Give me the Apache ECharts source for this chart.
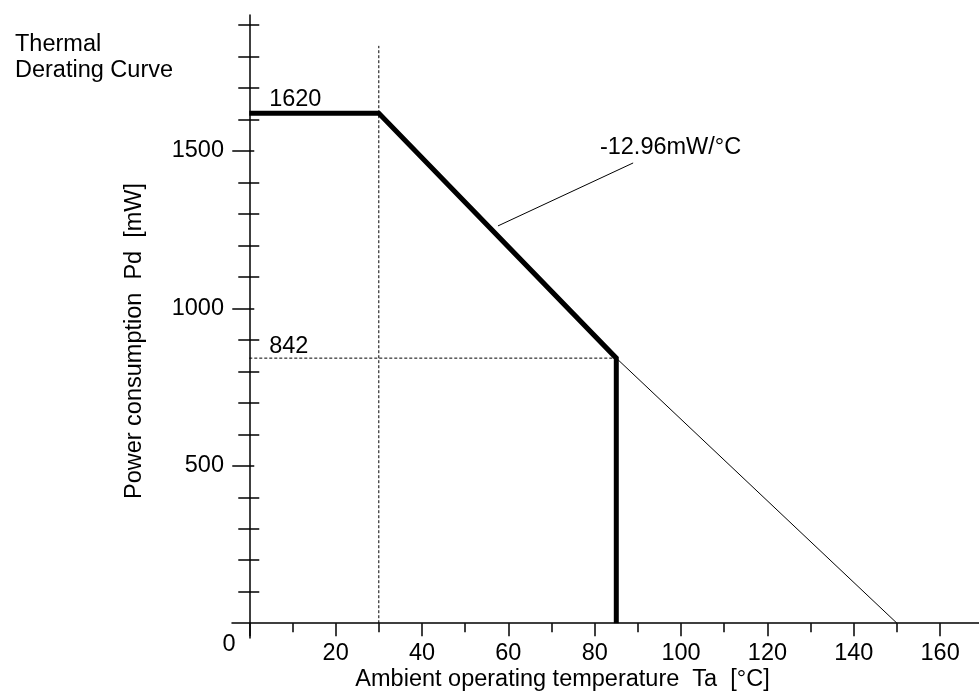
<!DOCTYPE html>
<html><head><meta charset="utf-8">
<script src="https://cdn.jsdelivr.net/npm/echarts@6/dist/echarts.min.js"></script>
<style>html,body{margin:0;padding:0;background:#fff}#c{width:979px;height:691px}</style>
</head><body><div id="c"></div>
<script>
const FONT = "'Liberation Sans', Arial, Helvetica, sans-serif";
const FS = 23.5;
// axis ticks / labels
const xMajorTicks = [0, 20, 40, 60, 80, 100, 120, 140, 160];
const xMinorTicks = [10, 30, 50, 70, 90, 110, 130, 150];
const xTickLabels = [20, 40, 60, 80, 100, 120, 140, 160];
const yMajorTicks = [500, 1000, 1500];
const yMinorTicks = [100, 200, 300, 400, 600, 700, 800, 900, 1100, 1200, 1300, 1400, 1600, 1700, 1800, 1900];
// derating curve (bold)
const curveTemp  = [0, 30, 85, 85];
const curvePower = [1620, 1620, 842, 0];
// thin extension of the slope
const extTemp  = [85, 150];
const extPower = [842, 0];
// dashed guides
const guideVTemp  = [30, 30];
const guideVPower = [0, 1834];
const guideHTemp  = [0, 85];
const guideHPower = [842, 842];
// annotation leader line
const leaderTemp  = [57.6, 88.9];
const leaderPower = [1262, 1462];
// annotation texts and anchors
const noteTexts = ['1620', '842', '-12.96mW/°C'];
const noteTemp  = [4.6, 4.6, 81.2];
const notePower = [1662, 880, 1512];

const pairs = (xs, ys) => xs.map((x, i) => [x, ys[i]]);
const X_MIN = -4, X_MAX = 169, Y_MIN = -47, Y_MAX = 1932;
const TICK = { color: '#000', width: 1.5 };
const HIDDEN_LINE = { show: true, onZero: true, onZeroAxisIndex: 0, lineStyle: { color: 'rgba(0,0,0,0)', width: 1 } };

function yAx(extra) {
  return Object.assign({
    type: 'value', min: Y_MIN, max: Y_MAX, position: 'left',
    splitLine: { show: false }, axisLine: HIDDEN_LINE,
    axisLabel: { show: false }, axisTick: { show: false }
  }, extra);
}
function xAx(extra) {
  return Object.assign({
    type: 'value', min: X_MIN, max: X_MAX, position: 'bottom',
    splitLine: { show: false }, axisLine: HIDDEN_LINE,
    axisLabel: { show: false }, axisTick: { show: false }
  }, extra);
}

const chart = echarts.init(document.getElementById('c'), null, { renderer: 'canvas' });
chart.setOption({
  animation: false,
  backgroundColor: '#fff',
  textStyle: { fontFamily: FONT, color: '#000' },
  title: {
    text: 'Thermal\nDerating Curve', left: 10, top: 27,
    textStyle: { fontSize: FS, fontWeight: 'normal', lineHeight: 26, fontFamily: FONT, color: '#000' }
  },
  grid: { left: 232, right: 0, top: 15, bottom: 53, containLabel: false, outerBoundsMode: 'none' },
  xAxis: [
    xAx({
      axisLine: { show: true, onZero: true, onZeroAxisIndex: 0, lineStyle: { color: '#000', width: 1.5 } },
      axisLabel: { show: true, customValues: xTickLabels, margin: 4, fontSize: FS, fontFamily: FONT, color: '#000' },
      name: 'Ambient operating temperature  Ta  [°C]', nameLocation: 'middle', nameGap: 30, nameMoveOverlap: false,
      nameTextStyle: { fontSize: FS, fontFamily: FONT, color: '#000', padding: [0, 86, 0, 0] }
    }),
    xAx({ axisTick: { show: true, inside: false, length: 13, customValues: xMajorTicks, lineStyle: TICK } }),
    xAx({ axisTick: { show: true, inside: false, length: 9, customValues: xMinorTicks, lineStyle: TICK } })
  ],
  yAxis: [
    yAx({
      axisLine: { show: true, onZero: true, onZeroAxisIndex: 0, lineStyle: { color: '#000', width: 1.5 } },
      axisLabel: { show: true, customValues: yMajorTicks, margin: 8, fontSize: FS, fontFamily: FONT, color: '#000',
        formatter: v => String(v) },
      name: 'Power consumption  Pd  [mW]', nameLocation: 'middle', nameGap: 85, nameRotate: 90, nameMoveOverlap: false,
      nameTextStyle: { fontSize: FS, fontFamily: FONT, color: '#000', padding: [0, 29, 0, 0] }
    }),
    yAx({ axisTick: { show: true, inside: false, length: 17, customValues: yMajorTicks, lineStyle: TICK } }),
    yAx({ axisTick: { show: true, inside: true, length: 5, customValues: yMajorTicks, lineStyle: TICK } }),
    yAx({ axisTick: { show: true, inside: false, length: 11, customValues: yMinorTicks, lineStyle: TICK } }),
    yAx({ axisTick: { show: true, inside: true, length: 10, customValues: yMinorTicks, lineStyle: TICK } })
  ],
  graphic: [{
    type: 'text', x: 229, y: 645,
    style: { text: '0', fontSize: FS, fontFamily: FONT, fill: '#000', align: 'center', verticalAlign: 'middle' }
  }],
  series: [
    { type: 'line', data: pairs(guideVTemp, guideVPower), symbol: 'none', silent: true,
      lineStyle: { color: '#000', width: 1, type: [3, 2] } },
    { type: 'line', data: pairs(guideHTemp, guideHPower), symbol: 'none', silent: true,
      lineStyle: { color: '#000', width: 1, type: [3, 2] } },
    { type: 'line', data: pairs(extTemp, extPower), symbol: 'none', silent: true,
      lineStyle: { color: '#000', width: 1 } },
    { type: 'line', data: pairs(leaderTemp, leaderPower), symbol: 'none', silent: true,
      lineStyle: { color: '#000', width: 1 } },
    { type: 'line', data: pairs(curveTemp, curvePower), symbol: 'none', silent: true,
      lineStyle: { color: '#000', width: 5, cap: 'butt', join: 'miter' } },
    { type: 'scatter', symbolSize: 0, silent: true, itemStyle: { opacity: 1, color: '#000' },
      data: noteTexts.map((t, i) => ({ value: [noteTemp[i], notePower[i]], name: t })),
      label: { show: true, position: 'inside', align: 'left', verticalAlign: 'middle', opacity: 1,
        formatter: p => p.name, fontSize: FS, fontFamily: FONT, color: '#000', textBorderWidth: 0 } }
  ]
});
</script>
</body></html>
